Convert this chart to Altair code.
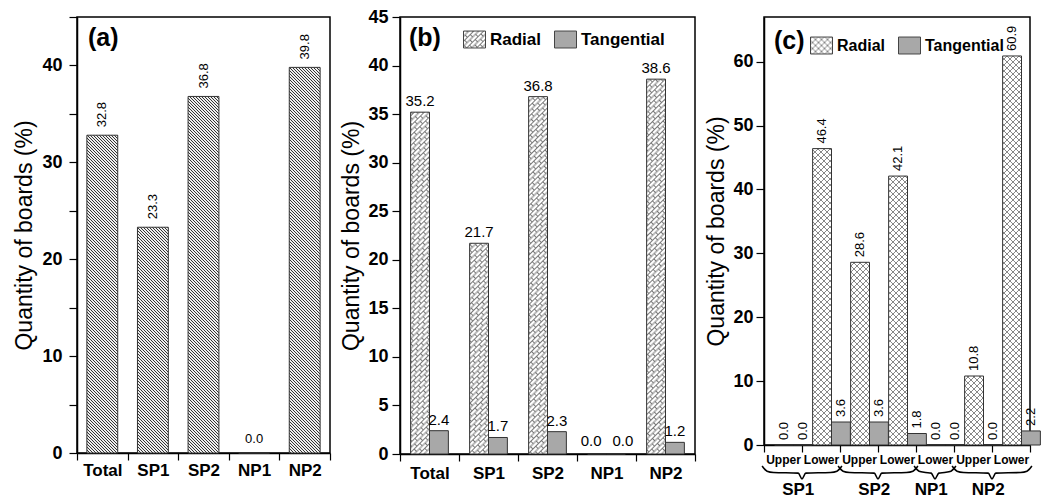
import altair as alt
import pandas as pd
import altair.utils.html as _ah

FONT = "Liberation Sans"

# ---------------- data ----------------
cats = ["Total", "SP1", "SP2", "NP1", "NP2"]
a_values = [32.8, 23.3, 36.8, 0.0, 39.8]

series = ["Radial", "Tangential"]
b_radial = [35.2, 21.7, 36.8, 0.0, 38.6]
b_tangential = [2.4, 1.7, 2.3, 0.0, 1.2]

c_groups = ["SP1", "SP1", "SP2", "SP2", "NP1", "NP2", "NP2"]
c_levels = ["Upper", "Lower", "Upper", "Lower", "Lower", "Upper", "Lower"]
c_radial = [0.0, 46.4, 28.6, 42.1, 0.0, 10.8, 60.9]
c_tangential = [0.0, 3.6, 3.6, 1.8, 0.0, 0.0, 2.2]

y_title = "Quantity of boards (%)"
panel_labels = ["(a)", "(b)", "(c)"]

# ---------------- fill patterns (SVG defs injected into page) ----------------
DEFS = """<svg width="0" height="0" style="position:absolute;left:0;top:0" aria-hidden="true"><defs>
<pattern id="hatchA" patternUnits="userSpaceOnUse" width="3" height="3">
<rect width="3" height="3" fill="#eeeeee"/>
<path d="M-1,-1 L4,4 M-1,2 L1,4 M2,-1 L4,1" stroke="#2a2a2a" stroke-width="0.95"/></pattern>
<pattern id="brickB" patternUnits="userSpaceOnUse" width="8" height="7" patternTransform="rotate(-45)">
<rect width="8" height="7" fill="#ffffff"/>
<path d="M0,0.5H8 M0,4H8 M0.5,0.5V4 M4.5,4V7.5" stroke="#6a6a6a" stroke-width="0.9"/></pattern>
<pattern id="crossC" patternUnits="userSpaceOnUse" width="6" height="6">
<rect width="6" height="6" fill="#ffffff"/>
<path d="M0,0L6,6 M6,0L0,6" stroke="#6a6a6a" stroke-width="0.8"/></pattern>
</defs></svg>"""


class _Tmpl:
    def __init__(self, base):
        self.base = base

    def render(self, **kw):
        html = self.base.render(**kw)
        if "<body>" in html:
            return html.replace("<body>", "<body>\n" + DEFS, 1)
        return DEFS + html


TEMPLATE = _Tmpl(_ah.TEMPLATES["standard"])

TANG = "#a8a8a8"
EDGE = "#333333"


def y_enc(top, step, pad=4, minor=None, tpad=5):
    vals = list(range(0, top + 1, minor if minor else step))
    ax = alt.Axis(title=y_title, values=vals,
                  labelExpr=f"datum.value % {step} == 0 ? datum.label : ''",
                  labelFontSize=18, labelFontWeight="bold", labelPadding=pad,
                  tickSize=8, tickWidth=1.2, domainWidth=1.5,
                  titleFontSize=23, titleFontWeight="normal", titlePadding=tpad)
    return alt.Y("v:Q", scale=alt.Scale(domain=[0, top], nice=False, zero=True), axis=ax)


def x_axis(size, pad, expr=None):
    kw = dict(title=None, labelAngle=0, tickBand="extent", tickSize=7, tickWidth=1.2,
              labelPadding=pad, labelFontSize=size, labelFontWeight="bold",
              domainWidth=1.5)
    if expr:
        kw["labelExpr"] = expr
    return alt.Axis(**kw)


def panel_label(txt, x, y):
    return alt.Chart(pd.DataFrame({"t": [txt]})).mark_text(
        fontSize=25, fontWeight="bold", align="left", baseline="middle", font=FONT
    ).encode(text="t:N", x=alt.value(x), y=alt.value(y))


def legend(x, y, size):
    return alt.Legend(title=None, orient="none", direction="horizontal",
                      legendX=x, legendY=y,
                      symbolType="M-1,-0.77H1V0.77H-1Z", symbolSize=484,
                      symbolStrokeColor="#444444", symbolStrokeWidth=1,
                      labelFontSize=size, labelFontWeight="bold", labelFont=FONT,
                      labelColor="black", columnPadding=10, labelOffset=4, padding=0)


# ---------------- panel (a) ----------------
dfa = pd.DataFrame({"cat": cats, "v": a_values})
xa = alt.X("cat:N", sort=cats, scale=alt.Scale(paddingInner=0, paddingOuter=0),
           axis=x_axis(17, 2))
ya = y_enc(45, 10, pad=7, minor=5, tpad=5)
bars_a = alt.Chart(dfa).mark_bar(width={"band": 0.61}, fill="url(#hatchA)",
                                 stroke=EDGE, strokeWidth=1).encode(x=xa, y=ya)
lab_a = alt.Chart(dfa).transform_filter("datum.v > 0").mark_text(
    angle=270, align="left", baseline="middle", dx=8, fontSize=13, font=FONT
).encode(x=xa, y=ya, text=alt.Text("v:Q", format=".1f"))
zero_a = alt.Chart(dfa).transform_filter("datum.v == 0").mark_text(
    baseline="bottom", dy=-7, fontSize=13, font=FONT
).encode(x=xa, y=ya, text=alt.Text("v:Q", format=".1f"))
chart_a = alt.layer(bars_a, lab_a, zero_a, panel_label(panel_labels[0], 11, 21)).properties(
    width=253, height=436)

# ---------------- panel (b) ----------------
dfb = pd.DataFrame({
    "cat": cats * 2,
    "s": ["Radial"] * len(cats) + ["Tangential"] * len(cats),
    "v": b_radial + b_tangential,
})
xb = alt.X("cat:N", sort=cats, scale=alt.Scale(paddingInner=0, paddingOuter=0),
           axis=x_axis(17, 4))
yb = y_enc(45, 5, pad=4, tpad=4)
xob = alt.XOffset("s:N", sort=series, scale=alt.Scale(paddingInner=0, paddingOuter=0.563))
colb = alt.Color("s:N", scale=alt.Scale(domain=series, range=["url(#brickB)", TANG]),
                 legend=legend(63, 11, 17))
bars_b = alt.Chart(dfb).mark_bar(stroke=EDGE, strokeWidth=1).encode(
    x=xb, xOffset=xob, y=yb, color=colb)
lab_b = alt.Chart(dfb).transform_filter("datum.v > 0").mark_text(
    baseline="bottom", dy=-3, fontSize=15, font=FONT).encode(
    x=xb, xOffset=xob, y=yb, text=alt.Text("v:Q", format=".1f"))
zr_b = alt.Chart(dfb).transform_filter("datum.v == 0 && datum.s == 'Radial'").mark_text(
    baseline="bottom", dy=-5, dx=-6, fontSize=15, font=FONT).encode(
    x=xb, xOffset=xob, y=yb, text=alt.Text("v:Q", format=".1f"))
zt_b = alt.Chart(dfb).transform_filter("datum.v == 0 && datum.s == 'Tangential'").mark_text(
    baseline="bottom", dy=-5, dx=7, fontSize=15, font=FONT).encode(
    x=xb, xOffset=xob, y=yb, text=alt.Text("v:Q", format=".1f"))
chart_b = alt.layer(bars_b, lab_b, zr_b, zt_b, panel_label(panel_labels[1], 9, 21)).properties(
    width=295, height=437)

# ---------------- panel (c) ----------------
c_keys = [f"{g} {l}" for g, l in zip(c_groups, c_levels)]
dfc = pd.DataFrame({
    "key": c_keys * 2,
    "s": ["Radial"] * len(c_keys) + ["Tangential"] * len(c_keys),
    "v": c_radial + c_tangential,
})
CTOP = 67
xc = alt.X("key:N", sort=c_keys, scale=alt.Scale(paddingInner=0, paddingOuter=0),
           axis=x_axis(12, 2, expr="split(datum.label, ' ')[1]"))
yc = y_enc(CTOP, 10, pad=3, tpad=4)
xoc = alt.XOffset("s:N", sort=["Tangential", "Radial"],
                  scale=alt.Scale(paddingInner=0, paddingOuter=0.26))
colc = alt.Color("s:N", scale=alt.Scale(domain=series, range=["url(#crossC)", TANG]),
                 legend=legend(46, 17, 16))
bars_c = alt.Chart(dfc).mark_bar(stroke=EDGE, strokeWidth=1).encode(
    x=xc, xOffset=xoc, y=yc, color=colc)
lab_c = alt.Chart(dfc).mark_text(angle=270, align="left", baseline="middle", dx=5,
                                 fontSize=13, font=FONT).encode(
    x=xc, xOffset=xoc, y=yc, text=alt.Text("v:Q", format=".1f"))

# group spans for braces / group labels
spans = []
for i, g in enumerate(c_groups):
    if spans and spans[-1][0] == g:
        spans[-1][2] = i + 1
    else:
        spans.append([g, i, i + 1])

brace_rows = []
label_rows = []
for g, s, e in spans:
    m = (s + e) / 2.0
    pts = [(s - 0.05, -3.3), (s + 0.08, -4.1), (s + 0.25, -4.3), (m - 0.1, -4.4), (m, -5.3),
           (m + 0.1, -4.4), (e - 0.25, -4.3), (e - 0.08, -4.1), (e + 0.05, -3.3)]
    for k, (bx, by) in enumerate(pts):
        brace_rows.append({"grp": g, "ord": k, "bx": bx, "v": by})
    label_rows.append({"grp": g, "bx": m - 0.1, "v": -7.0})
dfbr = pd.DataFrame(brace_rows)
dfgl = pd.DataFrame(label_rows)
bxs = alt.Scale(domain=[0, len(c_keys)], nice=False, zero=False)
brace = alt.Chart(dfbr).mark_line(interpolate="monotone", color="black", strokeWidth=1.6).encode(
    x=alt.X("bx:Q", scale=bxs, axis=None), y=yc,
    detail="grp:N", order="ord:Q")
glab = alt.Chart(dfgl).mark_text(fontSize=17, fontWeight="bold", baseline="middle",
                                 font=FONT).encode(
    x=alt.X("bx:Q", scale=bxs, axis=None), y=yc, text="grp:N")

chart_c = alt.layer(
    alt.layer(bars_c, lab_c, panel_label(panel_labels[2], 10, 24)),
    alt.layer(brace, glab),
).resolve_scale(x="independent").properties(width=266, height=428)

chart = alt.hconcat(chart_a, chart_b, chart_c, spacing=8).resolve_scale(
    color="independent").resolve_legend(color="independent").properties(
    padding={"left": 5, "top": -1, "right": 0, "bottom": 0}
).configure(font=FONT).configure_view(stroke="black", strokeWidth=1.5).configure_axis(
    labelFont=FONT, titleFont=FONT, labelColor="black", titleColor="black",
    domainColor="black", tickColor="black", grid=False)

chart.save("out.html", embed_options={"renderer": "svg", "actions": False}, template=TEMPLATE)
